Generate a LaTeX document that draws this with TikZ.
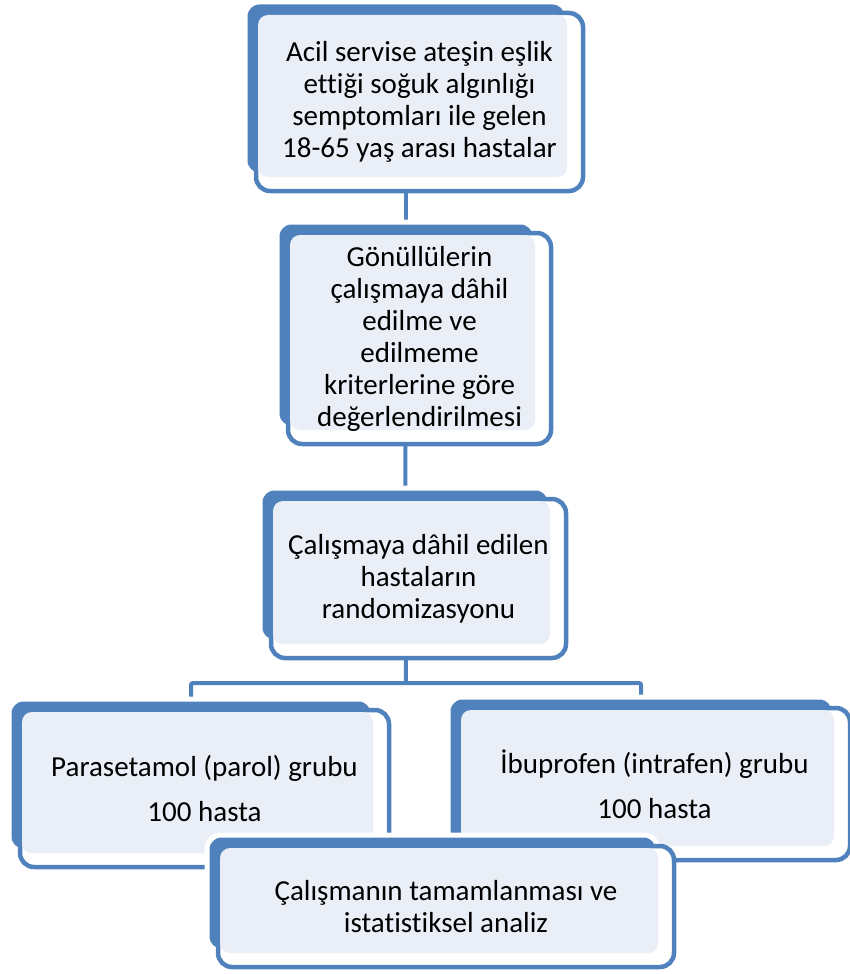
\documentclass[tikz,border=0pt]{standalone}
\usepackage{fontspec}
\setmainfont{Carlito}[Ligatures=NoCommon]
\usetikzlibrary{backgrounds}
\definecolor{boxblue}{HTML}{4F81BD}
\definecolor{boxfill}{HTML}{EAEFF7}
\tikzset{back/.style={fill=boxblue,draw=white,line width=5pt,rounded corners=14pt}}
\tikzset{front/.style={fill=white,draw=boxblue,line width=4.5pt,rounded corners=14pt}}
\tikzset{inner/.style={fill=boxfill,rounded corners=10pt}}
\tikzset{l/.style={align=center,font=\fontsize{29}{32}\selectfont}}
\tikzset{link/.style={draw=boxblue,line width=4pt,rounded corners=2pt}}
% back corners (x0,y0) (x1,y1), front and text shifted down right
\newcommand{\flowbox}[6]{%
  \path[back] (#2,#3) rectangle (#4,#5);
  \path[front] (#2+11,#3+11) rectangle (#4+16,#5+16);
  \path[inner] (#2+13,#3+13) rectangle (#4,#5+2);
  \coordinate (#1) at ({(#2+#4)/2},{(#3+#5)/2});
  \node[l] (#1t) at ({(#2+#4+27)/2},{(#3+#5+27)/2}) {#6};}

\begin{document}
\begin{tikzpicture}[x=1pt,y=-1pt]
  \useasboundingbox (0,0) rectangle (850,974);
  \flowbox{q1}{245}{2}{567}{175}{Acil servise ateşin eşlik\\ettiği soğuk algınlığı\\semptomları ile gelen\\18-65 yaş arası hastalar}
  \flowbox{q2}{277}{222}{535}{428}{Gönüllülerin\\çalışmaya dâhil\\edilme ve\\edilmeme\\kriterlerine göre\\değerlendirilmesi}
  \flowbox{q3}{260}{488}{550}{642}{Çalışmaya dâhil edilen\\hastaların\\randomizasyonu}
  \flowbox{q4}{9}{699}{373}{851}{Parasetamol (parol) grubu\\[13pt]100 hasta}
  \flowbox{q5}{448}{697}{834}{844}{İbuprofen (intrafen) grubu\\[13pt]100 hasta}
  \flowbox{q6}{207}{835}{658}{951}{Çalışmanın tamamlanması ve\\istatistiksel analiz}
  \begin{pgfonlayer}{background}
    \coordinate (split) at (406,683);
    \draw[link] (q1) -- (q2);
    \draw[link] (q2) -- (q3);
    \draw[link] (q3) -- (split);
    \draw[link] (q4) |- (split) -| (q5);
  \end{pgfonlayer}
\end{tikzpicture}
\end{document}
